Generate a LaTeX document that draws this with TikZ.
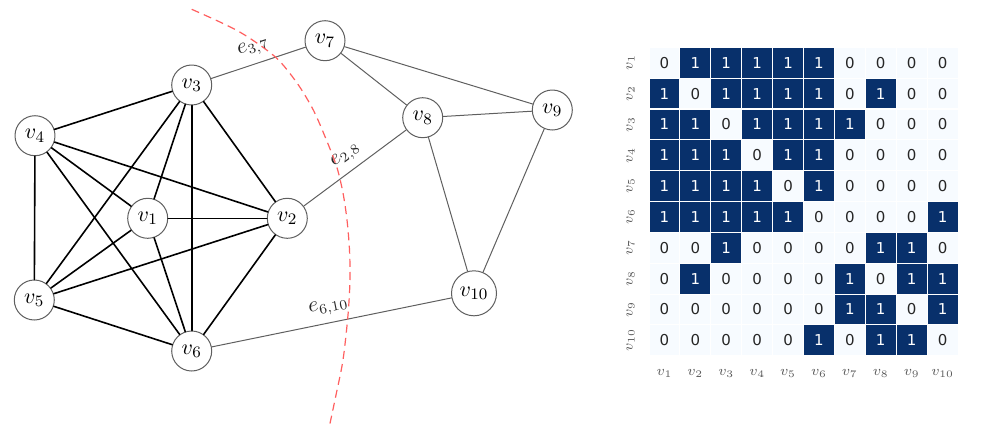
\documentclass[tikz,border=0pt]{standalone}
\usepackage{amsmath}
\usepackage{fontspec}
\newfontfamily\numfont{DejaVu Sans}
\usetikzlibrary{arrows}
\definecolor{cutred}{RGB}{255,95,95}
\definecolor{cellblue}{RGB}{8,48,107}
\definecolor{cellpale}{RGB}{247,251,255}
\definecolor{numgray}{RGB}{38,38,38}
\definecolor{edgegray}{RGB}{95,95,95}
\definecolor{axgray}{RGB}{90,90,90}

\begin{document}
\begin{tikzpicture}[line cap=round,line join=round,x=0.5pt,y=-0.5pt,
	vtx/.style={circle,draw=edgegray,line width=0.5pt,fill=white,minimum size=20pt,inner sep=1pt,font=\fontsize{11}{13}\selectfont},
	kedge/.style={line width=0.8pt,black},
	cutedge/.style={line width=0.5pt,edgegray},
	elabel/.style={sloped,above=2.6pt,pos=0.5,inner sep=1pt,text=black!85,font=\fontsize{10.5}{12}\selectfont},
	cell/.style={inner sep=0pt,minimum width=14.95pt,minimum height=14.9pt,font=\numfont\fontsize{7.5}{9}\selectfont},
	axlabel/.style={text=axgray,inner sep=0pt,font=\fontsize{7}{8}\selectfont}]
			\useasboundingbox (0,0) rectangle (1007,445);
			\node [vtx] (v1) at (147.7,218.3) {$v_1$};
			\node [vtx] (v2) at (287.3,218.3) {$v_2$};
			\node [vtx] (v3) at (191.7,85.) {$v_3$};
			\node [vtx] (v4) at (35.,135.7) {$v_4$};
			\node [vtx] (v5) at (34.3,300.) {$v_5$};
			\node [vtx] (v6) at (191.7,351.) {$v_6$};
			\node [vtx] (v7) at (325.,40.7) {$v_7$};
			\node [vtx] (v8) at (422.7,117.7) {$v_8$};
			\node [vtx] (v9) at (552.3,110.) {$v_9$};
			\node [vtx,minimum size=22.5pt] (v10) at (474.,293.3) {$v_{10}$};
			\draw [kedge] (v1)-- (v2);
			\draw [kedge] (v1)-- (v3);
			\draw [kedge] (v1)-- (v4);
			\draw [kedge] (v1)-- (v5);
			\draw [kedge] (v1)-- (v6);
			\draw [kedge] (v2)-- (v3);
			\draw [kedge] (v2)-- (v4);
			\draw [kedge] (v2)-- (v5);
			\draw [kedge] (v2)-- (v6);
			\draw [kedge] (v3)-- (v4);
			\draw [kedge] (v3)-- (v5);
			\draw [kedge] (v3)-- (v6);
			\draw [kedge] (v4)-- (v5);
			\draw [kedge] (v4)-- (v6);
			\draw [kedge] (v5)-- (v6);
			\draw [cutedge] (v3)-- node [elabel] {$e_{3,7}$} (v7);
			\draw [cutedge] (v2)-- node [elabel] {$e_{2,8}$} (v8);
			\draw [cutedge] (v6)-- node [elabel] {$e_{6,10}$} (v10);
			\draw [cutedge] (v7)-- (v8);
			\draw [cutedge] (v7)-- (v9);
			\draw [cutedge] (v8)-- (v9);
			\draw [cutedge] (v8)-- (v10);
			\draw [cutedge] (v9)-- (v10);
			\draw [line width=0.6pt,color=cutred,dash pattern=on 4pt off 2.6pt,line cap=butt] plot [smooth,tension=0.5] coordinates {(191.7,9.3) (238.,31.) (275.,56.7) (297.,83.) (313.3,110.) (326.,139.) (336.7,166.7) (343.,193.) (347.,220.) (349.5,250.) (350.,280.) (348.,315.) (343.,360.) (336.,395.) (329.3,426.7)};
			\foreach \rowvals [count=\i] in {{0,1,1,1,1,1,0,0,0,0},{1,0,1,1,1,1,0,1,0,0},{1,1,0,1,1,1,1,0,0,0},{1,1,1,0,1,1,0,0,0,0},{1,1,1,1,0,1,0,0,0,0},{1,1,1,1,1,0,0,0,0,1},{0,0,1,0,0,0,0,1,1,0},{0,1,0,0,0,0,1,0,1,1},{0,0,0,0,0,0,1,1,0,1},{0,0,0,0,0,1,0,1,1,0}}{
				\foreach \val [count=\j] in \rowvals {
					\ifnum\val=1 \def\cellfill{cellblue}\def\celltext{white}\else\def\cellfill{cellpale}\def\celltext{numgray}\fi
					\node [cell,fill=\cellfill,text=\celltext] (m\i-\j) at ({649+(\j-0.5)*30.9},{47.3+(\i-0.5)*30.84}) {\val};
				}
			}
			\foreach \k in {1,...,10}{
				\node [axlabel,rotate=90] (r\k) at (630.7,{47.3+(\k-0.5)*30.84}) {$v_{\k}$};
				\node [axlabel] (c\k) at ({649+(\k-0.5)*30.9},373.3) {$v_{\k}$};
			}
		\end{tikzpicture}
\end{document}
